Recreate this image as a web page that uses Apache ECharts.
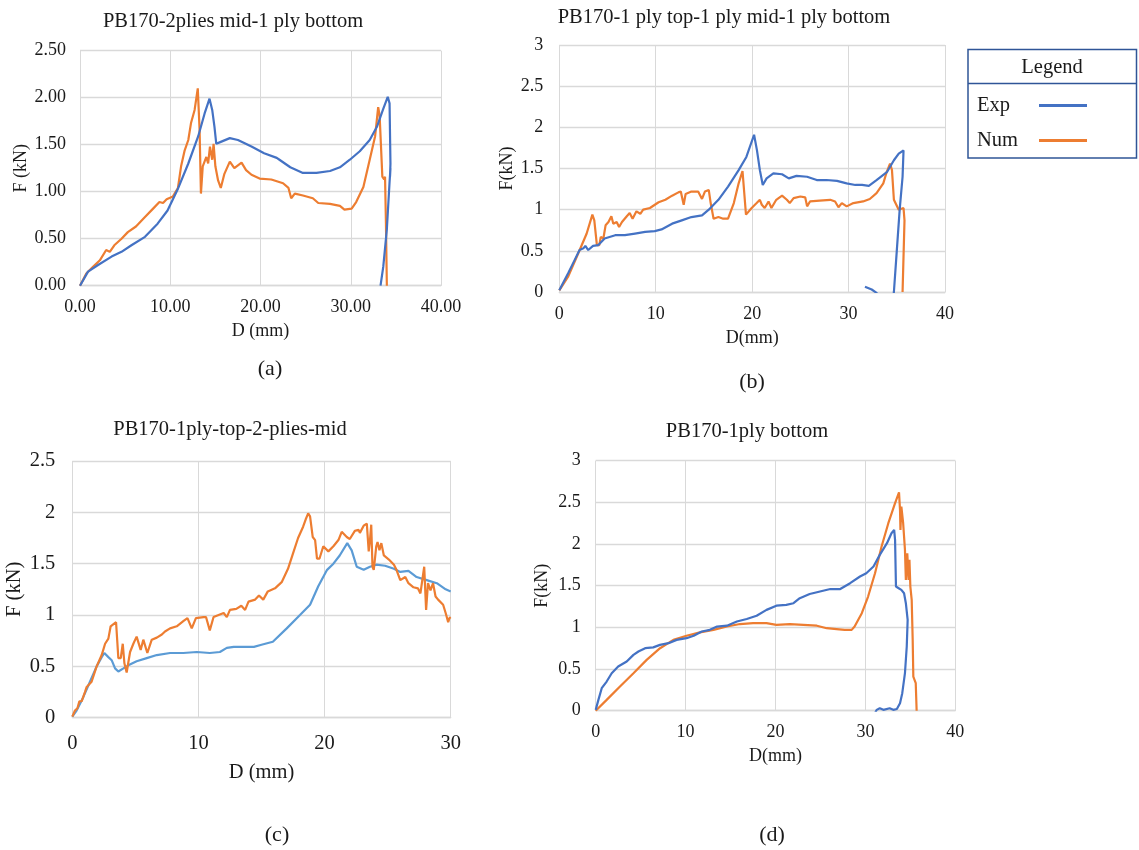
<!DOCTYPE html>
<html>
<head>
<meta charset="utf-8">
<script src="https://cdn.jsdelivr.net/npm/echarts@6/dist/echarts.min.js"></script>
<style>html,body{margin:0;padding:0;background:#fff}#c{width:1139px;height:850px}</style>
</head>
<body>
<div id="c"></div>
<script>
// ---------- data (D in mm, F in kN) ----------
const aExp = [[0,0],[0.89,0.15],[2.0,0.22],[3.5,0.31],[4.6,0.36],[5.7,0.43],[7.2,0.52],[8.6,0.66],[9.7,0.80],[10.8,1.02],[12.0,1.30],[13.1,1.59],[13.8,1.83],[14.35,1.99],[14.65,1.87],[14.9,1.69],[15.1,1.51],[15.6,1.53],[16.6,1.57],[17.5,1.55],[19.0,1.48],[20.4,1.41],[21.8,1.36],[22.1,1.34],[23.3,1.26],[24.7,1.20],[26.2,1.20],[27.7,1.22],[28.8,1.26],[29.9,1.34],[31.0,1.43],[32.1,1.55],[32.9,1.69],[33.6,1.88],[34.1,2.01],[34.3,1.94],[34.4,1.30],[34.35,1.16],[34.4,1.25],[34.3,1.1],[34.0,0.6],[33.6,0.2],[33.3,0]];
const aNum = [[0,0],[0.7,0.13],[1.44,0.20],[2.2,0.27],[2.9,0.38],[3.3,0.36],[3.8,0.43],[4.6,0.50],[5.3,0.57],[6.2,0.63],[7.2,0.73],[8.1,0.82],[8.8,0.89],[9.2,0.88],[9.6,0.92],[10.3,0.95],[10.85,1.04],[11.2,1.27],[11.6,1.44],[12.0,1.55],[12.3,1.73],[12.7,1.87],[13.05,2.10],[13.25,1.66],[13.4,0.98],[13.6,1.27],[14.0,1.37],[14.2,1.30],[14.4,1.48],[14.65,1.34],[14.8,1.51],[15.0,1.27],[15.3,1.12],[15.6,1.04],[16.0,1.19],[16.6,1.32],[17.1,1.25],[17.9,1.31],[18.4,1.23],[19.0,1.18],[19.9,1.14],[21.2,1.13],[22.5,1.09],[23.1,1.04],[23.4,0.93],[23.8,0.98],[24.7,0.96],[25.8,0.93],[26.4,0.88],[27.7,0.87],[28.8,0.85],[29.3,0.81],[30.1,0.82],[30.6,0.89],[31.4,1.05],[32.1,1.34],[32.7,1.59],[33.04,1.90],[33.2,1.81],[33.5,1.16],[33.7,1.13],[33.8,1.16],[33.9,0.66],[34.0,0]];

const bExp = [[0,0.02],[0.93,0.23],[1.6,0.39],[2.1,0.51],[2.5,0.53],[2.7,0.56],[3.0,0.51],[3.5,0.56],[4.05,0.57],[4.7,0.65],[5.8,0.69],[6.8,0.69],[7.85,0.71],[8.9,0.73],[9.9,0.74],[10.6,0.76],[11.7,0.83],[12.7,0.87],[13.7,0.91],[14.8,0.93],[15.5,1.00],[16.5,1.12],[17.5,1.28],[18.6,1.48],[19.4,1.64],[20.2,1.91],[20.5,1.72],[20.8,1.48],[21.1,1.30],[21.5,1.38],[22.2,1.44],[23.1,1.43],[23.8,1.38],[24.6,1.41],[25.7,1.40],[26.7,1.36],[27.7,1.36],[28.8,1.35],[29.8,1.32],[30.7,1.30],[31.4,1.30],[32.1,1.29],[32.9,1.36],[34.0,1.46],[34.7,1.60],[35.2,1.68],[35.7,1.72],[35.6,1.4],[35.3,1.0],[35.0,0.5],[34.7,0],[34.4,-0.3],[33.5,-0.15],[32.9,-0.01],[32.4,0.03],[31.7,0.065]];
const bNum = [[0,0.02],[0.93,0.19],[1.97,0.47],[2.84,0.71],[3.43,0.94],[3.63,0.87],[3.9,0.57],[4.15,0.57],[4.3,0.67],[4.57,0.65],[4.8,0.81],[5.1,0.85],[5.4,0.92],[5.6,0.83],[5.95,0.85],[6.2,0.79],[6.5,0.85],[7.0,0.92],[7.3,0.96],[7.6,0.89],[8.0,0.98],[8.4,0.95],[8.7,1.00],[9.4,1.02],[10.3,1.09],[11.0,1.12],[11.7,1.17],[12.35,1.21],[12.6,1.22],[12.9,1.06],[13.1,1.19],[13.7,1.22],[14.4,1.22],[14.8,1.13],[15.1,1.22],[15.5,1.24],[15.7,1.08],[16.0,0.89],[16.5,0.91],[17.0,0.89],[17.5,0.89],[18.1,1.08],[18.6,1.32],[19.0,1.47],[19.36,0.94],[19.95,1.02],[20.47,1.08],[20.8,1.12],[21.0,1.06],[21.3,1.02],[21.7,1.10],[22.0,1.02],[22.5,1.12],[23.1,1.17],[23.6,1.12],[23.9,1.08],[24.3,1.14],[25.0,1.16],[25.5,1.15],[25.7,1.04],[26.0,1.10],[27.0,1.11],[28.1,1.12],[28.6,1.10],[28.95,1.03],[29.3,1.08],[29.8,1.04],[30.5,1.08],[31.5,1.10],[32.2,1.13],[32.9,1.20],[33.6,1.32],[33.96,1.46],[34.3,1.56],[34.5,1.48],[34.7,1.12],[34.9,1.14],[35.2,1.00],[35.4,1.02],[35.7,1.02],[35.8,0.87],[35.6,0]];

const cExp = [[0,0.01],[0.34,0.07],[0.87,0.20],[1.4,0.35],[1.93,0.50],[2.33,0.59],[2.54,0.63],[2.86,0.59],[3.12,0.56],[3.39,0.48],[3.65,0.45],[4.05,0.48],[4.44,0.51],[5.1,0.55],[5.9,0.58],[6.7,0.61],[7.75,0.63],[8.8,0.63],[9.87,0.64],[10.9,0.63],[11.7,0.64],[12.25,0.68],[12.8,0.69],[13.6,0.69],[14.4,0.69],[15.0,0.71],[15.9,0.74],[17.0,0.87],[18.05,1.00],[18.85,1.10],[19.5,1.28],[20.2,1.44],[20.7,1.50],[21.2,1.58],[21.8,1.70],[22.15,1.63],[22.55,1.47],[23.1,1.44],[23.6,1.47],[24.1,1.49],[24.8,1.48],[25.5,1.45],[26.0,1.42],[26.65,1.43],[27.3,1.37],[28.1,1.34],[28.9,1.31],[29.6,1.25],[30.0,1.23]];
const cNum = [[0,0.01],[0.21,0.07],[0.4,0.09],[0.56,0.16],[0.74,0.16],[1.0,0.25],[1.14,0.30],[1.27,0.30],[1.53,0.35],[1.93,0.50],[2.33,0.61],[2.6,0.72],[2.86,0.77],[3.04,0.89],[3.47,0.93],[3.65,0.58],[3.84,0.58],[4.0,0.72],[4.13,0.53],[4.31,0.44],[4.58,0.64],[4.84,0.72],[5.1,0.79],[5.42,0.66],[5.63,0.76],[5.95,0.63],[6.3,0.76],[6.7,0.78],[7.1,0.81],[7.35,0.84],[7.75,0.87],[8.28,0.89],[8.8,0.94],[9.13,0.97],[9.47,0.87],[9.8,0.97],[10.4,0.98],[10.6,0.98],[10.9,0.85],[11.2,0.98],[11.6,1.00],[12.0,1.02],[12.25,0.98],[12.5,1.05],[13.0,1.06],[13.4,1.09],[13.7,1.05],[13.97,1.13],[14.5,1.15],[14.8,1.19],[15.14,1.15],[15.5,1.23],[16.07,1.26],[16.6,1.32],[17.1,1.45],[17.5,1.60],[17.9,1.75],[18.3,1.86],[18.5,1.93],[18.7,1.99],[18.85,1.96],[19.06,1.76],[19.25,1.73],[19.4,1.55],[19.6,1.55],[19.9,1.67],[20.3,1.62],[20.7,1.67],[21.1,1.73],[21.36,1.81],[21.76,1.76],[22.0,1.74],[22.4,1.82],[22.7,1.83],[22.8,1.80],[23.1,1.87],[23.35,1.89],[23.5,1.62],[23.6,1.73],[23.7,1.88],[23.8,1.47],[23.9,1.44],[24.1,1.67],[24.2,1.71],[24.35,1.63],[24.5,1.70],[24.7,1.58],[25.1,1.54],[25.5,1.49],[25.7,1.44],[26.0,1.34],[26.4,1.37],[26.65,1.31],[27.05,1.27],[27.4,1.26],[27.6,1.21],[27.9,1.47],[28.05,1.05],[28.2,1.31],[28.4,1.24],[28.6,1.31],[28.8,1.18],[29.0,1.15],[29.4,1.10],[29.6,1.02],[29.8,0.93],[29.9,0.97],[30.0,0.98]];

const dExp = [[0,0.01],[0.3,0.13],[0.67,0.27],[1.22,0.35],[1.78,0.45],[2.5,0.53],[3.45,0.59],[4.2,0.67],[4.75,0.71],[5.5,0.75],[6.4,0.76],[7.15,0.79],[8.1,0.81],[9.0,0.85],[10.1,0.87],[10.9,0.90],[11.8,0.95],[12.7,0.97],[13.5,1.01],[14.6,1.02],[15.7,1.07],[16.8,1.10],[17.9,1.14],[19.0,1.21],[20.1,1.26],[21.2,1.27],[22.0,1.29],[22.7,1.35],[23.8,1.40],[24.95,1.43],[26.1,1.46],[27.2,1.46],[28.3,1.53],[29.4,1.61],[30.1,1.65],[30.9,1.73],[31.6,1.87],[32.4,2.01],[32.9,2.13],[33.2,2.17],[33.3,2.05],[33.4,1.49],[33.7,1.47],[34.0,1.45],[34.3,1.41],[34.5,1.29],[34.7,1.09],[34.6,0.77],[34.4,0.45],[34.1,0.21],[33.85,0.09],[33.5,0.02],[33.1,0.01],[32.7,0.03],[32.0,0.01],[31.6,0.03],[31.25,0.01],[31.07,-0.03]];
const dNum = [[0,0],[1.22,0.13],[2.7,0.29],[4.2,0.45],[5.67,0.61],[7.16,0.75],[8.64,0.85],[10.1,0.90],[11.6,0.94],[13.1,0.97],[14.6,1.01],[16.05,1.04],[17.5,1.05],[19.0,1.05],[20.1,1.03],[21.6,1.04],[23.1,1.03],[24.6,1.02],[25.7,0.99],[26.8,0.98],[27.7,0.97],[28.47,0.97],[28.8,1.01],[29.6,1.17],[30.3,1.37],[31.07,1.65],[31.8,1.97],[32.55,2.25],[33.3,2.49],[33.74,2.62],[33.85,2.41],[33.9,2.17],[34.0,2.45],[34.2,2.25],[34.4,1.93],[34.5,1.57],[34.66,1.89],[34.8,1.57],[34.9,1.81],[35.0,1.49],[35.15,1.33],[35.26,0.85],[35.33,0.41],[35.6,0.33],[35.7,0]];

const panelTitles = ['PB170-2plies mid-1 ply bottom', 'PB170-1 ply top-1 ply mid-1 ply bottom', 'PB170-1ply-top-2-plies-mid', 'PB170-1ply bottom'];
const captions = ['(a)', '(b)', '(c)', '(d)'];
const xNames = ['D (mm)', 'D(mm)', 'D (mm)', 'D(mm)'];
const yNames = ['F (kN)', 'F(kN)', 'F (kN)', 'F(kN)'];
const xMax = [40, 40, 30, 40];
const yMax = [2.5, 3, 2.5, 3];
const seriesNames = ['Exp', 'Num'];

// ---------- layout ----------
const FONT = "'Liberation Serif','Times New Roman',serif";
const TXT = '#1a1a1a';
const GRIDC = '#d9d9d9';
const BLUE = '#4472C4', BLUE_C = '#5B9BD5', ORANGE = '#ED7D31';

const grids = [
  {left: 80, top: 50.7, width: 361, height: 235},
  {left: 559.3, top: 45, width: 385.7, height: 247},
  {left: 72.3, top: 461, width: 378.4, height: 256.7},
  {left: 595.7, top: 460.7, width: 359.6, height: 250}
];
const tickFs = [18, 18, 20.5, 18];
const nameFs = [18, 18, 20.5, 18];
const xNameGap = [37, 37, 44, 37];
const yNameGap = [50, 43, 47, 44];
const xLabMargin = [13, 13, 15, 13];
const yLabMargin = [14, 16, 17, 15];
const titlePos = [[233, 11], [724, 7], [230, 419.5], [747, 421]];
const capPos = [[270, 358], [752, 371], [277, 824], [772, 824]];

const xAxes = [], yAxes = [], series = [], titles = [];
for (let i = 0; i < 4; i++) {
  const fmt = i === 0 ? (v => v.toFixed(2)) : (v => String(v));
  xAxes.push({
    type: 'value', gridIndex: i, min: 0, max: xMax[i], interval: 10,
    name: xNames[i], nameLocation: 'middle', nameGap: xNameGap[i],
    nameTextStyle: {fontFamily: FONT, fontSize: nameFs[i], color: TXT},
    axisLine: {show: true, lineStyle: {color: GRIDC, width: 1.3}},
    axisTick: {show: false},
    axisLabel: {fontFamily: FONT, fontSize: tickFs[i], color: TXT, margin: xLabMargin[i], formatter: fmt},
    splitLine: {show: true, lineStyle: {color: GRIDC, width: 1}}
  });
  yAxes.push({
    type: 'value', gridIndex: i, min: 0, max: yMax[i], interval: 0.5,
    name: yNames[i], nameLocation: 'middle', nameGap: yNameGap[i], nameRotate: 90,
    nameTextStyle: {fontFamily: FONT, fontSize: nameFs[i], color: TXT},
    axisLine: {show: false},
    axisTick: {show: false},
    axisLabel: {fontFamily: FONT, fontSize: tickFs[i], color: TXT, margin: yLabMargin[i], formatter: fmt},
    splitLine: {show: true, lineStyle: {color: GRIDC, width: 1.3}}
  });
  titles.push({
    text: panelTitles[i], left: titlePos[i][0], top: titlePos[i][1], textAlign: 'center', padding: 0,
    textStyle: {fontFamily: FONT, fontSize: 20.5, fontWeight: 'normal', color: TXT}
  });
  titles.push({
    text: captions[i], left: capPos[i][0], top: capPos[i][1], textAlign: 'center', padding: 0,
    textStyle: {fontFamily: FONT, fontSize: 22, fontWeight: 'normal', color: TXT}
  });
}
const expSets = [aExp, bExp, cExp, dExp];
const numSets = [aNum, bNum, cNum, dNum];
for (let i = 0; i < 4; i++) {
  series.push({
    name: seriesNames[0], type: 'line', xAxisIndex: i, yAxisIndex: i, data: expSets[i],
    showSymbol: false, symbol: 'none', clip: true,
    lineStyle: {color: i === 2 ? BLUE_C : BLUE, width: 2.2}, itemStyle: {color: BLUE}, z: 3
  });
  series.push({
    name: seriesNames[1], type: 'line', xAxisIndex: i, yAxisIndex: i, data: numSets[i],
    showSymbol: false, symbol: 'none', clip: true,
    lineStyle: {color: ORANGE, width: 2.2}, itemStyle: {color: ORANGE}, z: i === 2 ? 4 : 2
  });
}

const chart = echarts.init(document.getElementById('c'), null, {renderer: 'canvas'});
chart.setOption({
  animation: false,
  backgroundColor: '#fff',
  title: titles,
  grid: grids.map(g => Object.assign({containLabel: false, show: false}, g)),
  xAxis: xAxes,
  yAxis: yAxes,
  legend: {
    data: seriesNames, orient: 'vertical', left: 972, top: 90, align: 'right',
    icon: 'rect', itemWidth: 48, itemHeight: 3, itemGap: 14,
    selectedMode: false,
    formatter: name => '{t|' + name + '}',
    textStyle: {
      fontFamily: FONT, fontSize: 20.5, color: TXT, lineHeight: 21,
      rich: {t: {fontFamily: FONT, fontSize: 20.5, color: TXT, width: 57, align: 'left', lineHeight: 21}}
    }
  },
  graphic: [
    {type: 'rect', shape: {x: 968, y: 49.5, width: 168.5, height: 108.5}, style: {fill: 'none', stroke: '#2F5597', lineWidth: 1.5}, z: 10},
    {type: 'line', shape: {x1: 968, y1: 83.5, x2: 1136.5, y2: 83.5}, style: {stroke: '#2F5597', lineWidth: 1.5}, z: 10},
    {type: 'text', x: 1052, y: 68, style: {text: 'Legend', font: '20.5px ' + FONT, fill: TXT, textAlign: 'center', textVerticalAlign: 'middle'}, z: 10}
  ],
  series: series
});
</script>
</body>
</html>
